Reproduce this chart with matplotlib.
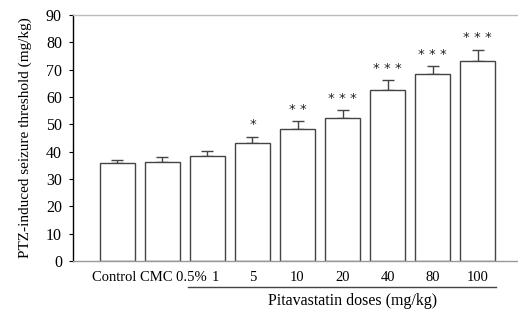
import numpy as np
import matplotlib.pyplot as plt

plt.rcParams['font.family'] = ['Liberation Serif', 'DejaVu Serif']

labels = ['Control', 'CMC 0.5%', '1', '5', '10', '20', '40', '80', '100']
values = [35.7, 36.1, 38.3, 43.3, 48.2, 52.2, 62.4, 68.3, 73.2]
errors = [1.4, 1.8, 2.1, 2.1, 3.0, 2.9, 3.8, 3.0, 4.1]
stars = ['', '', '', '*', '**', '***', '***', '***', '***']

fig = plt.figure(figsize=(5.18, 3.15), dpi=100)
ax = fig.add_axes([73/518, 1 - 261/315, 1 - 73/518, (261 - 15)/315])

x = np.arange(len(values))
ax.bar(x, values, width=0.78, color='white', edgecolor='#444444', linewidth=1.0, zorder=2)
ax.errorbar(x, values, yerr=[np.zeros(len(values)), errors], fmt='none',
            ecolor='#444444', elinewidth=1.0, capsize=4, capthick=1.0, zorder=1)

for xi, v, e, s in zip(x, values, errors, stars):
    if s:
        ax.text(xi, v + e + 2.0, ' '.join(s), ha='center', va='bottom', fontsize=9.5,
                color='#222222', fontfamily='DejaVu Sans')

ax.set_xlim(-0.98, 8.89)
ax.set_ylim(0, 90)
ax.set_yticks(range(0, 91, 10))
ax.tick_params(axis='y', labelsize=11.5, length=3, direction='out', pad=5)
ax.set_xticks([])

ax.spines['right'].set_visible(False)
ax.spines['top'].set_color('#bbbbbb')
ax.spines['bottom'].set_color('#999999')
ax.spines['left'].set_color('black')
for sp in ax.spines.values():
    sp.set_linewidth(1.0)

# category labels below the axis
ax.text(1.98, -3.6, labels[0] + ' ' + labels[1], ha='right', va='top', fontsize=10.5)
ax.text(2.17, -3.6, labels[2], ha='center', va='top', fontsize=10.5)
for xi, lab in zip(x[3:], labels[3:]):
    ax.text(xi, -3.6, lab, ha='center', va='top', fontsize=10.5)

ax.plot([1.57, 8.4], [-9.4, -9.4], color='#444444', lw=1.0, clip_on=False)
ax.text(5.23, -11.8, 'Pitavastatin doses (mg/kg)', ha='center', va='top', fontsize=11.5)

ax.set_ylabel('PTZ-induced seizure threshold (mg/kg)', fontsize=11, labelpad=10)

fig.savefig('out.png', dpi=100)
